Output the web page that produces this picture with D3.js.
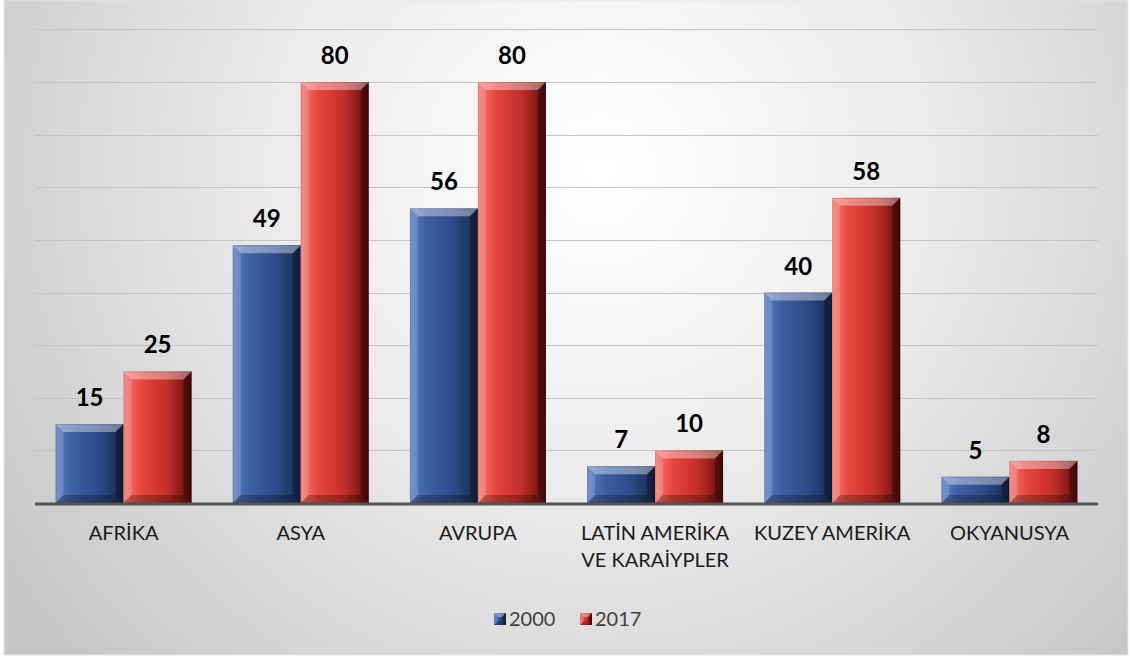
<!DOCTYPE html>
<html lang="tr">
<head>
<meta charset="UTF-8">
<title>2000 - 2017</title>
<script src="https://d3js.org/d3.v7.min.js"></script>
<style>
    body { margin: 0; background: #fff; font-family: Lato, "Open Sans", sans-serif; }
    .grid line { stroke: #c4c4c4; stroke-width: 1px; }
    .cat-label { font-size: 20px; fill: #1a1a1a; text-anchor: middle; }
    .val-label { font-size: 24px; font-weight: bold; fill: #000; text-anchor: middle; }
    .legend-text { font-size: 20px; fill: #404040; }
</style>
</head>
<body>
<svg id="chart"></svg>
<script>
    // Veriler
    const categories = [["AFRİKA"], ["ASYA"], ["AVRUPA"], ["LATİN AMERİKA", "VE KARAİYPLER"], ["KUZEY AMERİKA"], ["OKYANUSYA"]];
    const seriesNames = ["2000", "2017"];
    const values2000 = [15, 49, 56, 7, 40, 5];
    const values2017 = [25, 80, 80, 10, 58, 8];
    const gridTicks = [10, 20, 30, 40, 50, 60, 70, 80, 90];

    const width = 1131, height = 659;
    const margin = { left: 35, right: 33, top: 0, bottom: 156 };
    const baseY = 503;

    const svg = d3.select("#chart").attr("width", width).attr("height", height);
    const defs = svg.append("defs");

    // Arka plan (radyal gradyan)
    const bg = defs.append("radialGradient").attr("id", "bg")
        .attr("gradientUnits", "userSpaceOnUse")
        .attr("cx", 600).attr("cy", 170).attr("r", 720);
    bg.append("stop").attr("offset", "0%").attr("stop-color", "#ffffff");
    bg.append("stop").attr("offset", "45%").attr("stop-color", "#ebebeb");
    bg.append("stop").attr("offset", "100%").attr("stop-color", "#c6c6c6");

    svg.append("rect").attr("x", 0).attr("y", 0).attr("width", width).attr("height", height).attr("fill", "#ffffff");
    svg.append("rect").attr("x", 4).attr("y", 0).attr("width", 1124).attr("height", 655)
        .attr("fill", "url(#bg)").attr("stroke", "#e6e6e6").attr("stroke-width", 1);

    // Bar gradyanları
    const colors = {
        "2000": ["#5a7ec4", "#3d5fa3", "#2c4a86", "#172a52"],
        "2017": ["#f47a72", "#e8463e", "#c02e28", "#5e0c0a"]
    };
    seriesNames.forEach(s => {
        const g = defs.append("linearGradient").attr("id", "grad" + s)
            .attr("x1", "0%").attr("x2", "100%").attr("y1", "0%").attr("y2", "0%");
        g.append("stop").attr("offset", "0%").attr("stop-color", colors[s][0]);
        g.append("stop").attr("offset", "25%").attr("stop-color", colors[s][1]);
        g.append("stop").attr("offset", "65%").attr("stop-color", colors[s][2]);
        g.append("stop").attr("offset", "100%").attr("stop-color", colors[s][3]);
    });

    const x0 = d3.scaleBand()
        .domain(d3.range(categories.length))
        .range([margin.left, width - margin.right])
        .padding(0);
    const x1 = d3.scaleBand()
        .domain(seriesNames)
        .range([0, x0.bandwidth()])
        .paddingInner(0)
        .paddingOuter(0.303);
    const y = d3.scaleLinear().domain([0, 80]).range([baseY, 82]);

    // Izgara çizgileri
    svg.append("g").attr("class", "grid")
        .selectAll("line").data(gridTicks).join("line")
        .attr("x1", margin.left).attr("x2", width - margin.right)
        .attr("y1", d => Math.round(y(d)) + 0.5).attr("y2", d => Math.round(y(d)) + 0.5);

    // Barlar
    const rows = [];
    categories.forEach((c, i) => {
        rows.push({ i, s: "2000", v: values2000[i] });
        rows.push({ i, s: "2017", v: values2017[i] });
    });

    function bevelBar(g, x, yTop, w, h, s, bMax) {
        const b = Math.min(bMax || 8, h / 2.2);
        g.append("rect").attr("x", x).attr("y", yTop).attr("width", w).attr("height", h)
            .attr("fill", `url(#grad${s})`);
        const x2 = x + w, y2 = yTop + h;
        const polys = [
            { p: [[x, yTop], [x2, yTop], [x2 - b, yTop + b], [x + b, yTop + b]], f: "#ffffff", o: 0.38 },
            { p: [[x, yTop], [x + b, yTop + b], [x + b, y2 - b], [x, y2]], f: "#ffffff", o: 0.16 },
            { p: [[x2, yTop], [x2, y2], [x2 - b, y2 - b], [x2 - b, yTop + b]], f: "#000000", o: 0.32 },
            { p: [[x, y2], [x + b, y2 - b], [x2 - b, y2 - b], [x2, y2]], f: "#000000", o: 0.25 }
        ];
        polys.forEach(q => {
            g.append("polygon").attr("points", q.p.map(d => d.join(",")).join(" "))
                .attr("fill", q.f).attr("fill-opacity", q.o);
        });
        g.append("rect").attr("x", x + 0.5).attr("y", yTop + 0.5).attr("width", w - 1).attr("height", h - 1)
            .attr("fill", "none").attr("stroke", "#000").attr("stroke-opacity", 0.12);
    }

    const barsG = svg.append("g");
    rows.forEach(d => {
        const bx = x0(d.i) + x1(d.s);
        const by = y(d.v);
        bevelBar(barsG.append("g"), bx, by, x1.bandwidth(), baseY - by, d.s);
    });

    // Değer etiketleri
    svg.append("g").selectAll("text").data(rows).join("text")
        .attr("class", "val-label")
        .attr("x", d => x0(d.i) + x1(d.s) + x1.bandwidth() / 2)
        .attr("y", d => y(d.v) - 18)
        .text(d => d.v);

    // Eksen çizgisi
    svg.append("line")
        .attr("x1", margin.left).attr("x2", width - margin.right)
        .attr("y1", baseY + 1).attr("y2", baseY + 1)
        .attr("stroke", "#555").attr("stroke-width", 3);

    // Kategori etiketleri
    const cat = svg.append("g").selectAll("text").data(categories).join("text")
        .attr("class", "cat-label")
        .attr("x", (d, i) => x0(i) + x0.bandwidth() / 2)
        .attr("y", 540);
    cat.selectAll("tspan").data(d => d).join("tspan")
        .attr("x", function () { return d3.select(this.parentNode).attr("x"); })
        .attr("dy", (d, j) => j === 0 ? 0 : 27)
        .text(d => d);

    // Lejant
    const legendX = [494, 580];
    const legend = svg.append("g").selectAll("g").data(seriesNames).join("g")
        .attr("transform", (d, i) => `translate(${legendX[i]},613)`);
    legend.each(function (s) {
        bevelBar(d3.select(this), 0, 0, 12, 12, s, 4);
    });
    legend.append("text").attr("class", "legend-text")
        .attr("x", 15).attr("y", 13).text(d => d);
</script>
</body>
</html>
